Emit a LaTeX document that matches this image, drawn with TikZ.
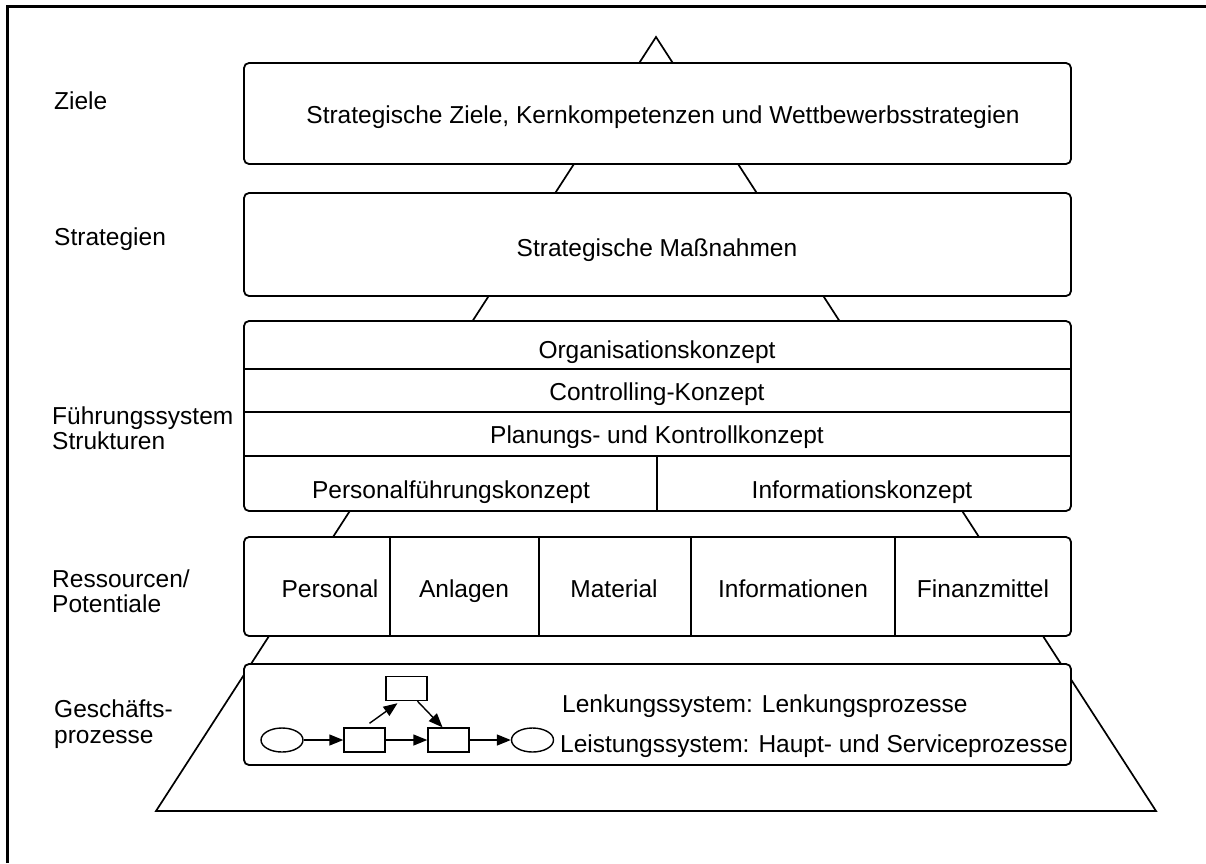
\documentclass[tikz,border=0pt]{standalone}
\usepackage{fontspec}
\setmainfont{Liberation Sans}
\usetikzlibrary{arrows.meta,shapes.geometric}
\begin{document}
\begin{tikzpicture}[x=1pt,y=-1pt,
  every node/.style={font=\fontsize{24.5}{25.5}\selectfont},
  lbl/.style={anchor=west,align=left,inner sep=0pt},
  txt/.style={inner sep=0pt,text height=18pt,text depth=5pt},
  boxx/.style={draw,fill=white,line width=1.8pt,rounded corners=5pt},
  sep/.style={line width=1.4pt},
  arr/.style={line width=1.4pt,-{Triangle[length=14pt,width=11pt]}},
  proc/.style={draw,line width=1.4pt,minimum width=41pt,minimum height=24pt,inner sep=0pt,fill=white},
  ev/.style={draw,ellipse,line width=1.4pt,minimum width=42pt,minimum height=24pt,inner sep=0pt,fill=white}]
\useasboundingbox (0,0) rectangle (1206,863);
\fill[white] (0,0) rectangle (1206,863);
% frame
\draw[line width=3pt] (7,863) -- (7,6) -- (1206,6);
% big triangle
\coordinate (apex) at (656,37);
\coordinate (bl) at (156,811);
\coordinate (br) at (1156,811);
\draw[line width=1.7pt,line join=miter] (apex) -- (bl) -- (br) -- cycle;
% boxes
\draw[boxx] (244,63) rectangle (1071,164);
\draw[boxx] (244,193) rectangle (1071,296);
\draw[boxx] (244,321) rectangle (1071,511);
\draw[sep] (244,369) -- (1071,369);
\draw[sep] (244,412) -- (1071,412);
\draw[sep] (244,456) -- (1071,456);
\draw[sep] (657,456) -- (657,511);
\draw[boxx] (244,537) rectangle (1071,636);
\draw[sep] (390,537) -- (390,636);
\draw[sep] (539,537) -- (539,636);
\draw[sep] (691,537) -- (691,636);
\draw[sep] (895,537) -- (895,636);
\draw[boxx] (244,664) rectangle (1071,765);
% left labels
\node[lbl,text height=18pt,text depth=5pt] (l1) at (54,103) {Ziele};
\node[lbl,text height=18pt,text depth=5pt] (l2) at (54,239) {Strategien};
\node[lbl] (l3) at (52,428) {Führungssystem\\Strukturen};
\node[lbl] (l4) at (52,591) {Ressourcen/\\Potentiale};
\node[lbl] (l5) at (54,724) {Geschäfts-\\prozesse};
% box texts
\node[txt] (t1) at (663,117) {Strategische Ziele, Kernkompetenzen und Wettbewerbsstrategien};
\node[txt] (t2) at (657,250) {Strategische Maßnahmen};
\node[txt] (t3a) at (657,352) {Organisationskonzept};
\node[txt] (t3b) at (657,394) {Controlling-Konzept};
\node[txt] (t3c) at (657,437) {Planungs- und Kontrollkonzept};
\node[txt] (t3d) at (451,492) {Personalführungskonzept};
\node[txt] (t3e) at (862,492) {Informationskonzept};
\node[txt] (t4a) at (330,591) {Personal};
\node[txt] (t4b) at (464,591) {Anlagen};
\node[txt] (t4c) at (614,591) {Material};
\node[txt] (t4d) at (793,591) {Informationen};
\node[txt] (t4e) at (983,591) {Finanzmittel};
\node[txt,anchor=west] (t5a) at (562,706) {Lenkungssystem: Lenkungsprozesse};
\node[txt,anchor=west] (t5b) at (560,746) {Leistungssystem: Haupt- und Serviceprozesse};
% mini process diagram
\node[ev] (e1) at (282,740) {};
\node[proc] (rA) at (364.5,740) {};
\node[proc] (rB) at (448.5,740) {};
\node[ev] (e2) at (532.5,740) {};
\node[proc] (rT) at (406.5,688.5) {};
\draw[arr] (e1) -- (rA);
\draw[arr] (rA) -- (rB);
\draw[arr] (rB) -- (e2);
\draw[arr] ([xshift=5pt,yshift=4pt]rA.north) -- ([xshift=-9pt,yshift=-2pt]rT.south);
\draw[arr] ([xshift=11pt]rT.south) -- ([xshift=-6pt]rB.north);
\end{tikzpicture}
\end{document}
